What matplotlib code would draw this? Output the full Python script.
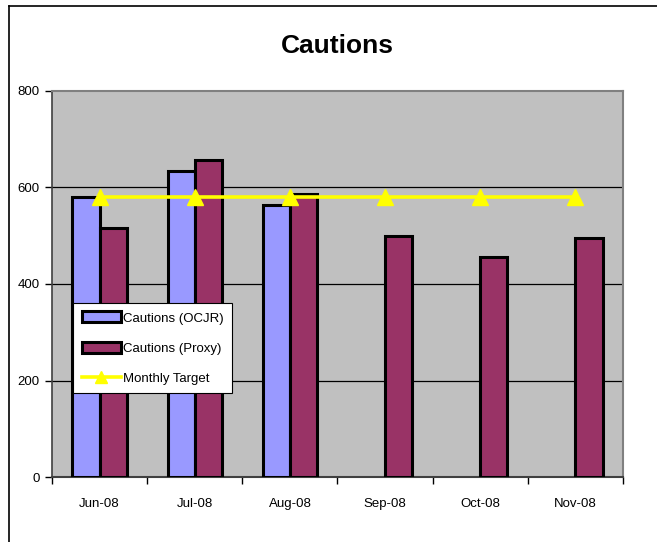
import matplotlib
matplotlib.use("Agg")
import matplotlib.pyplot as plt
from matplotlib.lines import Line2D
import numpy as np

months = ["Jun-08", "Jul-08", "Aug-08", "Sep-08", "Oct-08", "Nov-08"]
ocjr = [580, 634, 563, None, None, None]
proxy = [516, 656, 586, 499, 456, 495]
target = [580, 580, 580, 580, 580, 580]
yticks = [0, 200, 400, 600, 800]

plt.rcParams["font.family"] = ["Liberation Sans", "DejaVu Sans"]

fig = plt.figure(figsize=(6.57, 5.42), dpi=100)
ax = fig.add_axes([52/657, 65/542, 571/657, 386/542])
ax.set_facecolor("#C0C0C0")

x = np.arange(len(months))
w = 0.285
xo = [xi for xi, v in zip(x, ocjr) if v is not None]
vo = [v for v in ocjr if v is not None]
b1 = ax.bar(np.array(xo) - w/2, vo, w, color="#9999FF", edgecolor="black", linewidth=2.2,
            label="Cautions (OCJR)", zorder=3)
b2 = ax.bar(x + w/2, proxy, w, color="#993366", edgecolor="black", linewidth=2.2,
            label="Cautions (Proxy)", zorder=3)
l1, = ax.plot(x, target, color="#FFFF00", linewidth=2.6, marker="^", markersize=11,
              label="Monthly Target", zorder=4)

ax.set_xlim(-0.5, len(months) - 0.5)
ax.set_ylim(0, 800)
ax.set_yticks(yticks)
ax.set_yticklabels([str(v) for v in yticks], fontsize=9.5)
ax.set_xticks(x)
ax.set_xticklabels(months, fontsize=9.5)
ax.set_xticks(np.arange(-0.5, len(months)), minor=True)
ax.tick_params(axis="x", which="major", length=0, pad=15)
ax.tick_params(axis="x", which="minor", length=5, width=1, direction="out")
ax.tick_params(axis="y", length=5, width=1, direction="out", pad=4)
for g in yticks[1:-1]:
    ax.axhline(g, color="black", linewidth=0.9, zorder=1)

for s in ["top", "right"]:
    ax.spines[s].set_color("#808080")
    ax.spines[s].set_linewidth(1.5)
ax.spines["left"].set_color("#404040")
ax.spines["left"].set_linewidth(1.2)
ax.spines["bottom"].set_color("#404040")
ax.spines["bottom"].set_linewidth(1.5)

fig.text(337/657, 1 - 46/542, "Cautions", ha="center", va="center",
         fontsize=19, fontweight="bold")

leg = ax.legend(handles=[b1, b2, l1], loc="upper left", bbox_to_anchor=(0.037, 0.451),
                fontsize=9.5, frameon=True, fancybox=False, edgecolor="black", framealpha=1,
                handlelength=3.0, handleheight=0.9, handletextpad=0.1, markerscale=0.75,
                labelspacing=1.3, borderpad=0.65, borderaxespad=0)
leg.get_frame().set_linewidth(0.8)
leg.set_zorder(10)

fig.add_artist(Line2D([9/657, 1], [1 - 6/542, 1 - 6/542], color="black", linewidth=1.2))
fig.add_artist(Line2D([9/657, 9/657], [0, 1 - 6/542], color="black", linewidth=1.2))

fig.savefig("out.png", dpi=100)
